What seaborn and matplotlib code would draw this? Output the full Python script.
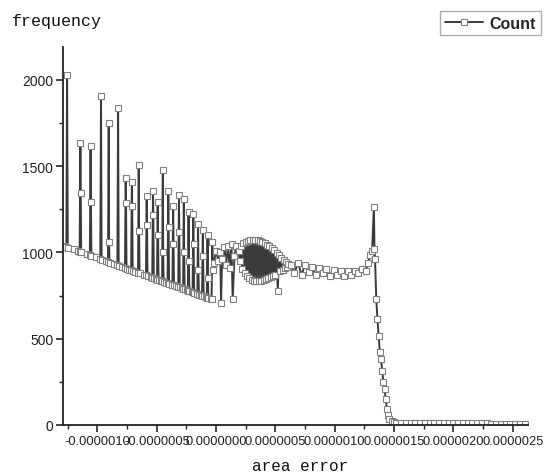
import numpy as np
import pandas as pd
import matplotlib
matplotlib.use("Agg")
import matplotlib.pyplot as plt
import seaborn as sns

# area error values are given in units of 1e-6
# left part: comb of narrow spikes on a falling baseline
left_x = [-1.27, -1.262, -1.256, -1.250,
          -1.20, -1.16, -1.150, -1.144, -1.141, -1.137,
          -1.09, -1.064, -1.058, -1.055, -1.051,
          -1.01, -0.976, -0.970, -0.965,
          -0.93, -0.911, -0.905, -0.902, -0.898,
          -0.86, -0.832, -0.826, -0.821,
          -0.79, -0.768, -0.762, -0.759, -0.755,
          -0.73, -0.716, -0.710, -0.707, -0.703,
          -0.68, -0.658, -0.652, -0.649, -0.645,
          -0.61, -0.591, -0.585, -0.582, -0.578,
          -0.55, -0.538, -0.532, -0.529, -0.525,
          -0.505, -0.498, -0.492, -0.489, -0.485,
          -0.465, -0.455, -0.449, -0.446, -0.442,
          -0.42, -0.409, -0.403, -0.400, -0.396,
          -0.375, -0.368, -0.362, -0.359, -0.355,
          -0.335, -0.319, -0.313, -0.310, -0.306,
          -0.29, -0.278, -0.272, -0.269, -0.265,
          -0.245, -0.238, -0.232, -0.229, -0.225,
          -0.205, -0.198, -0.192, -0.189, -0.185,
          -0.165, -0.158, -0.152, -0.149, -0.145,
          -0.125, -0.118, -0.112, -0.109, -0.105,
          -0.085, -0.078, -0.072, -0.069, -0.065,
          -0.045, -0.038, -0.032, -0.029, -0.02, 0.0, 0.02, 0.035, 0.042,
          0.05, 0.07, 0.085, 0.10, 0.115, 0.13, 0.14, 0.155, 0.17]
left_y = [1035, 1031, 2030, 1028,
          1018, 1008, 1005, 1635, 1345, 1000,
          990, 984, 1617, 1293, 980,
          972, 962, 1907, 958,
          950, 945, 1751, 1061, 940,
          933, 927, 1838, 923,
          916, 910, 1432, 1287, 906,
          901, 897, 1409, 1270, 894,
          889, 883, 1507, 1125, 880,
          872, 867, 1328, 1160, 863,
          857, 853, 1357, 1220, 850,
          846, 843, 1293, 1100, 840,
          836, 832, 1478, 1000, 829,
          825, 821, 1357, 1150, 818,
          814, 811, 1270, 1050, 809,
          805, 799, 1333, 1120, 797,
          794, 789, 1310, 1000, 787,
          783, 778, 1235, 950, 776,
          772, 768, 1223, 1050, 766,
          762, 758, 1165, 900, 756,
          752, 748, 1130, 980, 746,
          742, 738, 1100, 850, 736,
          732, 730, 1060, 900, 940, 1010, 950, 1000, 707,
          960, 1030, 930, 1040, 910, 1050, 730, 980, 1040]

# middle part: the hump and the plateau
mid_x = [0.19, 0.20, 0.21, 0.22, 0.23, 0.24, 0.25, 0.26, 0.27, 0.28,
         0.29, 0.30, 0.31, 0.32, 0.33, 0.34, 0.35, 0.36, 0.37, 0.38,
         0.39, 0.40, 0.41, 0.42, 0.43, 0.44, 0.45, 0.46, 0.47, 0.48,
         0.49, 0.50, 0.51, 0.52, 0.53, 0.54, 0.55, 0.56, 0.57, 0.58,
         0.59, 0.60, 0.61,
         0.63, 0.66, 0.69, 0.72, 0.75, 0.78, 0.81,
         0.84, 0.87, 0.90, 0.93, 0.96, 0.99, 1.02, 1.05, 1.08, 1.11,
         1.14, 1.17, 1.20, 1.23, 1.26, 1.28, 1.30, 1.315]
mid_y = [1010, 950, 1040, 905, 1052, 880, 1062, 865, 1068, 850,
         1072, 840, 1074, 835, 1074, 832, 1072, 832, 1068, 835,
         1062, 840, 1055, 845, 1046, 852, 1036, 860, 1025, 866,
         1012, 872, 998, 777, 985, 890, 970, 900, 958, 910,
         945, 918, 935,
         925, 880, 940, 870, 930, 885, 915,
         870, 910, 880, 905, 865, 900, 870, 895, 862, 890,
         868, 895, 880, 905, 890, 940, 985, 1010]

# right part: spike, fall-off and flat tail
tail_x = [1.33, 1.335, 1.34, 1.35, 1.36, 1.37, 1.38, 1.39, 1.40, 1.41,
          1.42, 1.43, 1.44, 1.45, 1.46, 1.48, 1.50, 1.52, 1.56, 1.60,
          1.64, 1.68, 1.72, 1.76, 1.80, 1.84, 1.88, 1.92, 1.96, 2.00,
          2.04, 2.08, 2.12, 2.16, 2.20, 2.24, 2.28, 2.32, 2.36, 2.40,
          2.44, 2.48, 2.52, 2.56, 2.60]
tail_y = [1265, 1020, 960, 730, 614, 516, 423, 383, 313, 249,
          209, 151, 93, 55, 35, 22, 16, 14, 14, 13,
          13, 12, 12, 12, 11, 11, 11, 10, 10, 10,
          10, 10, 9, 9, 9, 9, 9, 8, 8, 8,
          8, 8, 8, 8, 8]

x_ticks = [-1.0, -0.5, 0.0, 0.5, 1.0, 1.5, 2.0, 2.5]
x_tick_labels = ["-0.0000010", "-0.0000005", "0.0000000", "0.0000005",
                 "0.0000010", "0.0000015", "0.0000020", "0.0000025"]
y_ticks = [0, 500, 1000, 1500, 2000]

df = pd.DataFrame({
    "area error": np.array(left_x + mid_x + tail_x) * 1e-6,
    "Count": left_y + mid_y + tail_y,
})

sns.set_style("ticks")
plt.rcParams["font.family"] = ["Liberation Sans", "DejaVu Sans"]

fig = plt.figure(figsize=(5.53, 4.77), dpi=100)
ax = fig.add_axes([0.114, 0.107, 0.841, 0.792])

sns.lineplot(data=df, x="area error", y="Count", ax=ax, sort=False,
             estimator=None, color="#3a3a3a", linewidth=1.4,
             marker="s", markersize=5, markerfacecolor="white",
             markeredgecolor="#808080", markeredgewidth=0.8, label="Count")

ax.set_xlim(-1.29e-6, 2.63e-6)
ax.set_ylim(0, 2190)
ax.set_xticks(np.array(x_ticks) * 1e-6)
ax.set_xticklabels(x_tick_labels, fontsize=9.3, color="#222222")
ax.set_xticks(np.arange(-1.25, 2.6, 0.25) * 1e-6, minor=True)
ax.set_yticks(y_ticks)
ax.set_yticklabels([str(v) for v in y_ticks], fontsize=10, color="#222222")
ax.set_yticks(np.arange(0, 2200, 250), minor=True)
ax.tick_params(which="major", direction="out", length=5, width=1.2, pad=2)
ax.tick_params(which="minor", direction="out", length=3, width=1.0)
sns.despine(ax=ax)
for s in ["left", "bottom"]:
    ax.spines[s].set_linewidth(1.3)
    ax.spines[s].set_color("#222222")
ax.set_xlabel("")
ax.set_ylabel("")

ax.get_legend().remove()
handles, labels = ax.get_legend_handles_labels()
leg = fig.legend(handles, labels, loc="upper right", bbox_to_anchor=(0.992, 0.992),
                 frameon=True, fancybox=False, edgecolor="#999999",
                 handlelength=2.4, borderpad=0.3, handletextpad=0.4,
                 prop={"family": "Liberation Sans", "weight": "bold", "size": 11.5})
leg.get_frame().set_linewidth(1.0)

fig.text(0.022, 0.955, "frequency", fontsize=12, family="Liberation Mono",
         ha="left", va="center", color="#111111")
fig.text(0.542, 0.023, "area error", fontsize=11.5, family="Liberation Mono",
         ha="center", va="center", color="#111111")

fig.savefig("out.png", dpi=100)
